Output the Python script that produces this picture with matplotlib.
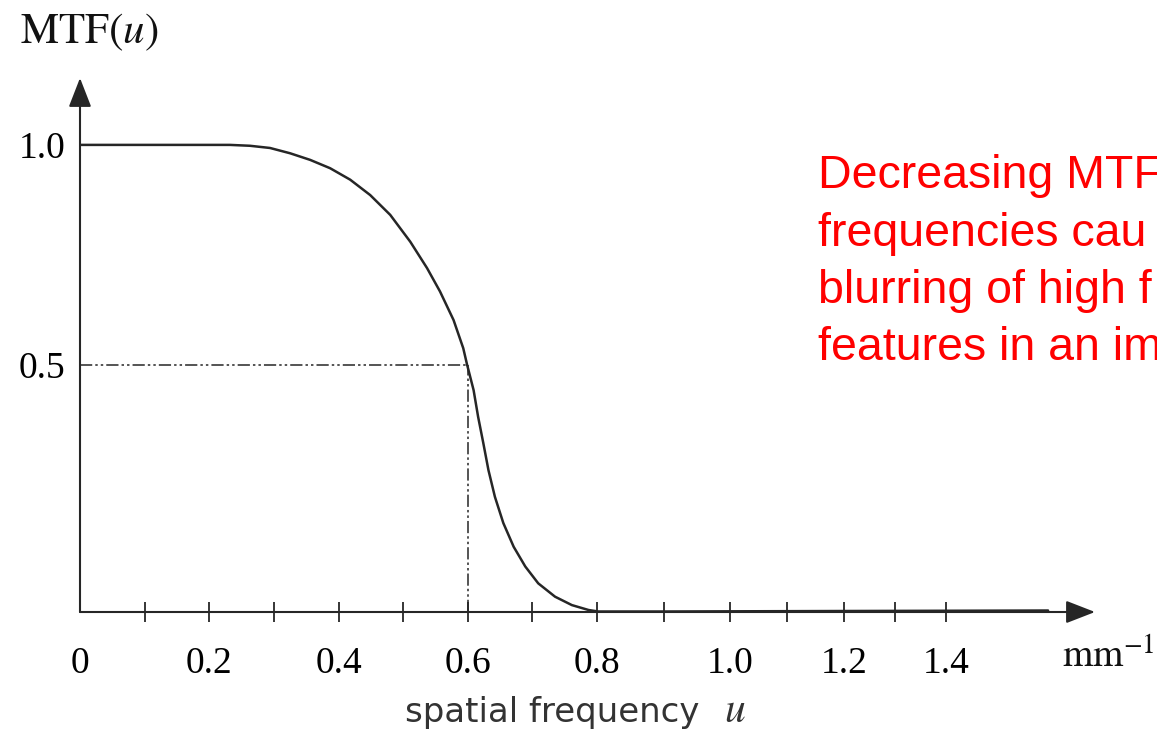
import numpy as np
import matplotlib
matplotlib.use("Agg")
import matplotlib.pyplot as plt

# MTF curve
u = [0, 0.1, 0.232, 0.263, 0.294, 0.325, 0.356, 0.387, 0.418, 0.449, 0.48,
     0.511, 0.537, 0.557, 0.578, 0.593, 0.599, 0.601, 0.609, 0.616, 0.624,
     0.632, 0.642, 0.655, 0.671, 0.689, 0.709, 0.735, 0.761, 0.787, 0.802,
     0.9, 1.2, 1.6]
mtf = [1.0, 1.0, 1.0, 0.998, 0.993, 0.981, 0.966, 0.947, 0.921, 0.886, 0.841,
       0.78, 0.72, 0.667, 0.602, 0.538, 0.5, 0.49, 0.449, 0.395, 0.342,
       0.287, 0.233, 0.18, 0.132, 0.092, 0.058, 0.031, 0.014, 0.004, 0.001,
       0.001, 0.002, 0.003]

x_major = [0, 0.2, 0.4, 0.6, 0.8, 1.0, 1.2, 1.4]
x_labels = ['0', '0.2', '0.4', '0.6', '0.8', '1.0', '1.2', '1.4']
x_minor = [0.1, 0.3, 0.5, 0.7, 0.9, 1.1, 1.3]
y_ticks = [0.5, 1.0]
y_labels = ['0.5', '1.0']
u_half = 0.6
mtf_half = 0.5

# the note runs off the right edge in the original, only this much shows
note = ['Decreasing MTF', 'frequencies cau', 'blurring of high f',
        'features in an im']

# the scanned axes are not evenly spaced, so map them piecewise
xk_data = [0, 0.8, 1.0, 1.2, 1.4, 2.0]
xk_pix = [0, 517, 650, 764, 866, 1172]
yk_data = [0, 0.5, 1.0, 1.5]
yk_pix = [0, 247, 467, 687]

plt.rcParams['mathtext.fontset'] = 'stix'
serif = 'Liberation Serif'
ink = '#262626'

W, H = 1157, 731
fig = plt.figure(figsize=(W / 100, H / 100), dpi=100)
ax = fig.add_axes([80 / W, 119 / H, (1095 - 80) / W, (612 - 78) / H])

ax.set_xscale('function', functions=(lambda v: np.interp(v, xk_data, xk_pix),
                                     lambda p: np.interp(p, xk_pix, xk_data)))
ax.set_yscale('function', functions=(lambda v: np.interp(v, yk_data, yk_pix),
                                     lambda p: np.interp(p, yk_pix, yk_data)))
ax.set_xlim(0, 1.692)
ax.set_ylim(0, 1.152)

# curve
ax.plot(u, mtf, color=ink, lw=1.8, solid_joinstyle='round',
        solid_capstyle='round', zorder=3)

# dash-dot-dot guide lines at the half value
dd = (8, 2, 1.6, 2, 1.6, 2)
ax.plot([0, u_half], [mtf_half, mtf_half], color=ink, lw=1.1, dashes=dd)
ax.plot([u_half, u_half], [0, mtf_half], color=ink, lw=1.1, dashes=dd)

# axes with arrow heads
for s in ax.spines.values():
    s.set_visible(False)
arrow = dict(arrowstyle='-|>,head_length=18,head_width=7', color=ink,
             lw=1.5, shrinkA=0, shrinkB=0, mutation_scale=1)
ax.annotate('', xy=(1, 0), xytext=(0, 0), xycoords='axes fraction',
            arrowprops=arrow)
ax.annotate('', xy=(0, 1), xytext=(0, 0), xycoords='axes fraction',
            arrowprops=arrow)

ax.set_xticks(x_major)
ax.set_xticklabels(x_labels, fontfamily=serif, fontsize=27)
ax.set_xticks(x_minor, minor=True)
ax.tick_params(axis='x', which='both', direction='inout', length=15,
               width=1.3, color=ink, pad=17)
ax.xaxis.get_major_ticks()[0].tick1line.set_visible(False)

ax.set_yticks(y_ticks)
ax.set_yticklabels(y_labels, fontfamily=serif, fontsize=27)
ax.tick_params(axis='y', length=0, pad=10.5)

# labels
fig.text(20 / W, 1 - 43 / H, r'$\mathrm{MTF}(u)$', fontsize=31,
         ha='left', va='baseline', color='#111')
fig.text(1062 / W, 1 - 657 / H, r'$\mathrm{mm}^{-1}$', fontsize=28,
         ha='left', va='center', color='#111')
fig.text(405 / W, 1 - 722 / H, 'spatial frequency', fontsize=24.5,
         fontfamily='DejaVu Sans', ha='left', va='baseline', color='#333')
fig.text(746 / W, 1 - 722 / H, r'$u$', fontsize=30,
         ha='right', va='baseline', color='#333')

for i, line in enumerate(note):
    fig.text(818 / W, 1 - (188 + 57.5 * i) / H, line, color='#ff0000',
             fontfamily='Liberation Sans', fontsize=33.5, va='baseline')

fig.savefig('out.png', dpi=100)
